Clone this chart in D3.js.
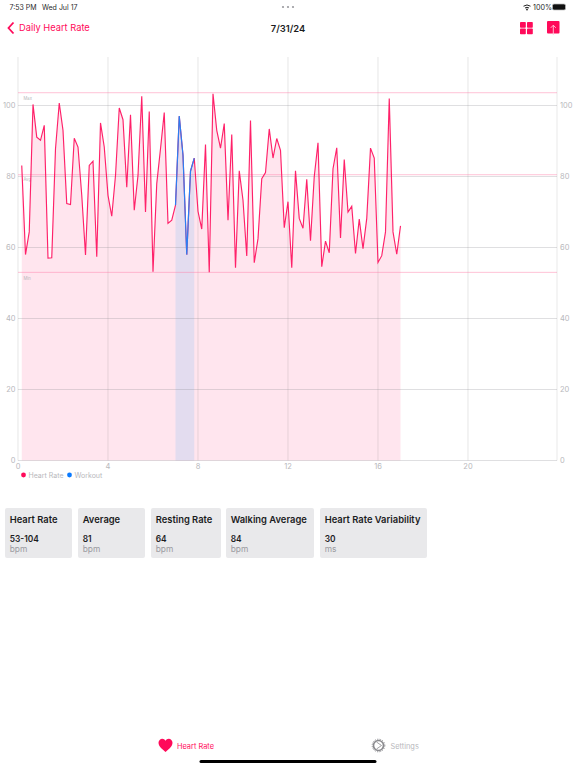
<!DOCTYPE html>
<html><head><meta charset="utf-8">
<script src="https://cdn.jsdelivr.net/npm/d3@7"></script>
<style>html,body{margin:0;padding:0;background:#fff}svg{display:block}text{font-family:Inter,"Liberation Sans",sans-serif}</style>
</head><body><svg id="c" width="576" height="768"></svg>
<script>
const heartRate=[83.1,58,64.4,100.3,91.1,90.2,94.4,57,57.1,87.8,100.7,93,72.4,72.1,90.8,88.3,74.7,57.9,83.1,84.3,57.4,95.1,88.3,74.7,68.8,80.3,99.3,96,77,97.4,70.5,80.3,102.6,70,98.3,53.2,78,87.8,98,66.8,67.7,71.9,97,86,58,81.5,85.2,70.2,65.2,89,53,103.3,93,88,94.9,67.7,91.8,54.3,81.6,73.3,57.6,95.8,55.7,62.5,79.4,81.1,93.4,85.2,90.7,87.4,65.6,72.9,54.3,81.6,68.2,65.4,79.2,61.9,80,89.5,54.6,61.8,58.5,82.2,88.1,62.7,84.8,70,71.6,58.3,68,59.7,68.2,88,85.2,55.8,57.7,64.4,102,64.4,58.1,66.1];
const workoutStart=42, workoutEnd=47;
const xTicks=[0,4,8,12,16,20], yTicks=[0,20,40,60,80,100];
const refLines=[{name:"Max",v:103.6},{name:"Avg",v:80.5},{name:"Min",v:53}];
const legendItems=[{name:"Heart Rate",color:"#ff0a5a"},{name:"Workout",color:"#0a7aff"}];
const cardTitles=["Heart Rate","Average","Resting Rate","Walking Average","Heart Rate Variability"];
const cardValues=["53-104","81","64","84","30"];
const cardUnits=["bpm","bpm","bpm","bpm","ms"];
const cardLefts=[5,78,151,226,320], cardRights=[72,145,221,314,427];

const svg=d3.select("#c");
const x=d3.scaleLinear().domain([0,24]).range([18,558]);
const y=d3.scaleLinear().domain([0,100]).range([460.5,105.5]);
const plotTop=57;
const pink="#ff0a5a", grey="#b8b8bc";
const pts=heartRate.map((v,i)=>({t:(i+1)/6,v,n:i+1}));
const area=d3.area().x(d=>x(d.t)).y0(y(0)).y1(d=>y(d.v));
const line=d3.line().x(d=>x(d.t)).y(d=>y(d.v));

// fills
svg.append("path").attr("d",area(pts)).attr("fill","#ffe5ee");
const wk=pts.filter(d=>d.n>=workoutStart&&d.n<=workoutEnd);
svg.append("path").attr("d",area(wk)).attr("fill","#e3dcef");

// grid
const g=svg.append("g");
g.selectAll(".v").data(xTicks).join("line").attr("x1",d=>x(d)).attr("x2",d=>x(d)).attr("y1",plotTop).attr("y2",y(0)).attr("stroke","#8a8a90").attr("stroke-opacity",.2).attr("stroke-width",1.1);
g.selectAll(".h").data(yTicks).join("line").attr("x1",x(0)).attr("x2",x(24)-1).attr("y1",d=>y(d)).attr("y2",d=>y(d)).attr("stroke","#8a8a90").attr("stroke-opacity",.35).attr("stroke-width",.8);
g.append("line").attr("x1",x(24)-1).attr("x2",x(24)-1).attr("y1",plotTop).attr("y2",y(0)).attr("stroke","#8a8a90").attr("stroke-opacity",.2);

// reference lines
g.selectAll(".r").data(refLines).join("line").attr("x1",x(0)).attr("x2",x(24)-1).attr("y1",d=>y(d.v)).attr("y2",d=>y(d.v)).attr("stroke","#ff7fa8").attr("stroke-opacity",.6).attr("stroke-width",.8);
g.selectAll(".rl").data(refLines).join("text").attr("x",x(0)+5.5).attr("y",d=>y(d.v)+(d.name==="Max"?7.5:d.name==="Avg"?6.5:7.5)).attr("font-size",4.2).attr("fill","#b8b8bc").text(d=>d.name);

// lines
svg.append("path").attr("d",line(pts)).attr("fill","none").attr("stroke",pink).attr("stroke-opacity",.9).attr("stroke-width",1.15).attr("stroke-linejoin","miter").attr("stroke-miterlimit",4);
svg.append("path").attr("d",line(wk)).attr("fill","none").attr("stroke","#2b7ff2").attr("stroke-width",1.2);

// tick labels
const tl=svg.append("g").attr("font-size",7.5).attr("fill",grey);
tl.selectAll(".xt").data(xTicks).join("text").attr("x",d=>x(d)).attr("y",469).attr("text-anchor","middle").text(d=>d);
tl.selectAll(".yl").data(yTicks).join("text").attr("x",15.5).attr("y",d=>y(d)+2.5).attr("text-anchor","end").text(d=>d);
tl.selectAll(".yr").data(yTicks).join("text").attr("x",560).attr("y",d=>y(d)+2.5).text(d=>d);

// legend
const lx=[23.5,69.5], ltx=[28.5,74.5];
legendItems.forEach((d,i)=>{
  svg.append("circle").attr("cx",lx[i]).attr("cy",475).attr("r",2.4).attr("fill",d.color);
  svg.append("text").attr("x",ltx[i]).attr("y",477.6).attr("font-size",7).attr("fill",grey).text(d.name);
});

// cards
cardTitles.forEach((t,i)=>{
  const a=cardLefts[i], b=cardRights[i];
  svg.append("rect").attr("x",a).attr("y",508).attr("width",b-a).attr("height",50).attr("rx",2).attr("fill","#e9e9eb");
  svg.append("text").attr("x",a+4.7).attr("y",522.5).attr("font-size",9.4).attr("font-weight",600).attr("fill","#1c1c1e").text(t);
  svg.append("text").attr("x",a+4.7).attr("y",541.5).attr("font-size",8.4).attr("font-weight",600).attr("fill","#1c1c1e").text(cardValues[i]);
  svg.append("text").attr("x",a+4.7).attr("y",551.5).attr("font-size",8.4).attr("fill","#9a9a9f").text(cardUnits[i]);
});

// header
svg.append("text").attr("x",9.5).attr("y",10).attr("font-size",7).attr("fill","#2a2a2c").text("7:53 PM");
svg.append("text").attr("x",42).attr("y",10).attr("font-size",7).attr("fill","#2a2a2c").text("Wed Jul 17");
svg.append("g").attr("fill","#9a9a9f").selectAll("circle").data([283,288,293]).join("circle").attr("cx",d=>d).attr("cy",7).attr("r",1.1);
svg.append("path").attr("d","M523.5 6.2a6 6 0 0 1 7 0M525 8a3.4 3.4 0 0 1 4 0").attr("fill","none").attr("stroke","#222").attr("stroke-width",1);
svg.append("circle").attr("cx",527).attr("cy",9.5).attr("r",.9).attr("fill","#222");
svg.append("text").attr("x",533).attr("y",10).attr("font-size",7.2).attr("fill","#2a2a2c").text("100%");
svg.append("rect").attr("x",552.5).attr("y",4).attr("width",13).attr("height",6).attr("rx",1.5).attr("fill","#111").attr("stroke","#bbb").attr("stroke-width",.7);
svg.append("path").attr("d","M13.5 22.5L8.5 28l5 5.5").attr("fill","none").attr("stroke",pink).attr("stroke-width",1.8);
svg.append("text").attr("x",19).attr("y",31.3).attr("font-size",9.3).attr("fill",pink).text("Daily Heart Rate");
svg.append("text").attr("x",288).attr("y",31.5).attr("text-anchor","middle").attr("font-size",9.4).attr("font-weight",600).attr("fill","#1c1c1e").text("7/31/24");
[[520,22],[527,22],[520,28.5],[527,28.5]].forEach(p=>svg.append("rect").attr("x",p[0]).attr("y",p[1]).attr("width",5.8).attr("height",5.8).attr("rx",.8).attr("fill",pink));
svg.append("rect").attr("x",547).attr("y",21).attr("width",12.5).attr("height",12.5).attr("rx",1).attr("fill",pink);
svg.append("path").attr("d","M553.3 35V25.5M550.8 27.8l2.5-2.6 2.5 2.6").attr("fill","none").attr("stroke","#ffd0de").attr("stroke-width",.9);

// tab bar
svg.append("path").attr("d","M165.5 752c-2-1.8-7-5-7-9.2 0-2.3 1.8-4 3.8-4 1.4 0 2.5.7 3.2 2 .7-1.3 1.8-2 3.2-2 2 0 3.8 1.7 3.8 4 0 4.2-5 7.4-7 9.2z").attr("fill",pink);
svg.append("text").attr("x",177).attr("y",748.5).attr("font-size",7.4).attr("fill",pink).text("Heart Rate");
svg.append("circle").attr("cx",378.5).attr("cy",745.5).attr("r",5).attr("fill","none").attr("stroke","#8a8a8e").attr("stroke-width",1.6);
svg.append("circle").attr("cx",378.5).attr("cy",745.5).attr("r",6.3).attr("fill","none").attr("stroke","#8a8a8e").attr("stroke-width",1).attr("stroke-dasharray","1.2 1.3");
svg.append("path").attr("d","M376.5 742l5 3.5-5 3.5").attr("fill","none").attr("stroke","#8a8a8e").attr("stroke-width",.8);
svg.append("text").attr("x",390.5).attr("y",748.5).attr("font-size",7.4).attr("fill",grey).text("Settings");
svg.append("rect").attr("x",199.5).attr("y",760).attr("width",177).attr("height",3).attr("rx",1.5).attr("fill","#000");
</script></body></html>
